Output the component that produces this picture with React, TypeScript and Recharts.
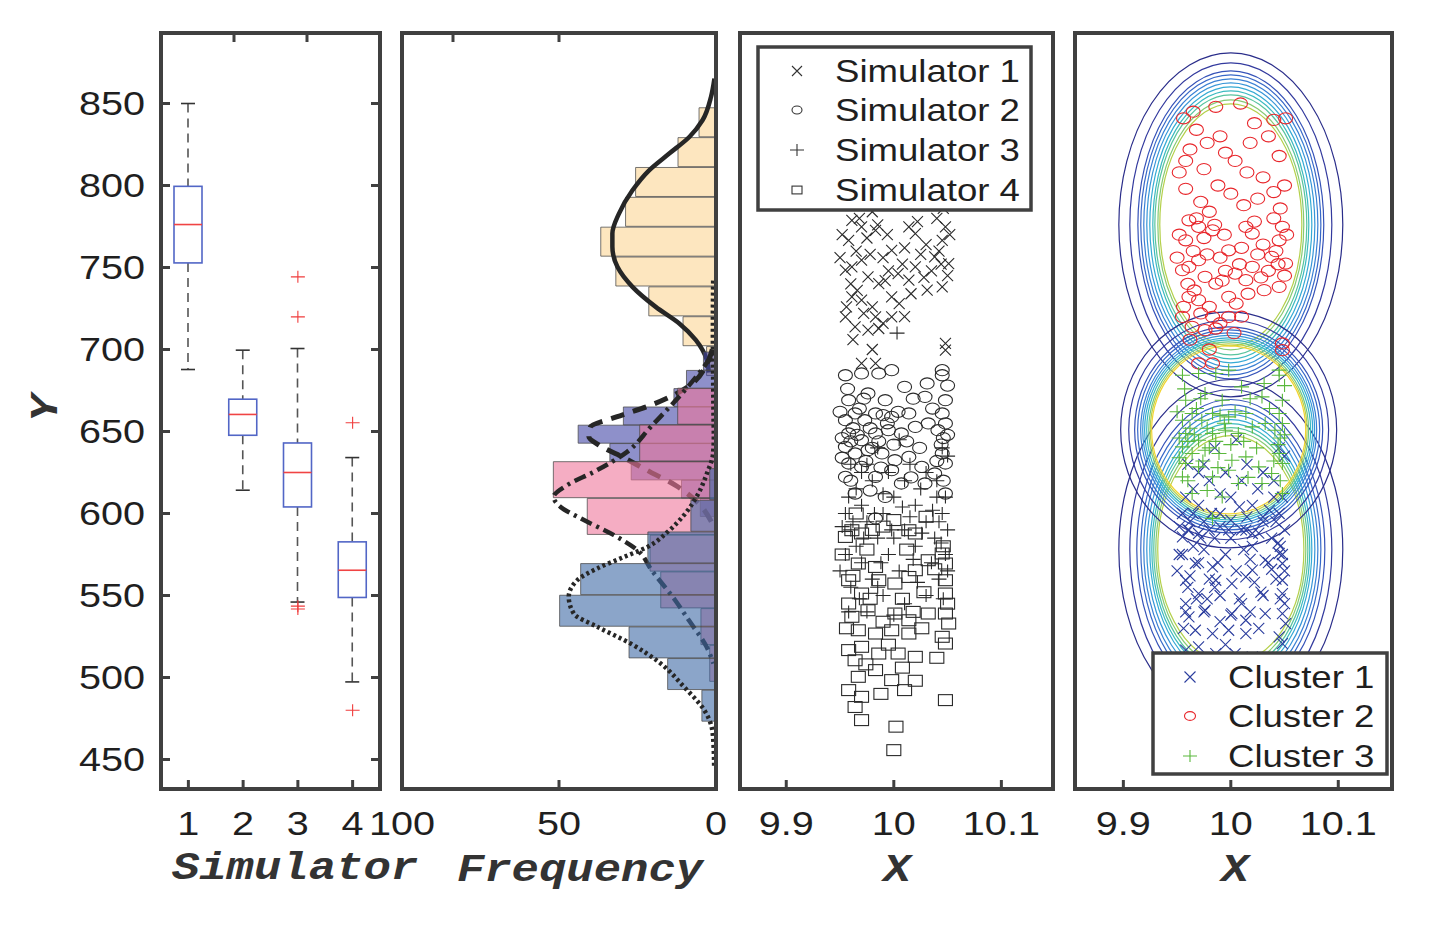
import React from "react";
import {
  ComposedChart,
  BarChart,
  Bar,
  LineChart,
  Line,
  ScatterChart,
  Scatter,
  XAxis,
  YAxis,
} from "recharts";

// ---- page / plot geometry ----
const W = 1437;
const H = 930;
const PLOT_TOP = 33;
const PLOT_BOTTOM = 789;
const P1 = { left: 161, right: 380 };
const P2 = { left: 402, right: 716 };
const P3 = { left: 740, right: 1053 };
const P4 = { left: 1075, right: 1392 };

const V_DOMAIN = [432, 893];
const V_TICKS = [450, 500, 550, 600, 650, 700, 750, 800, 850];
const X3_DOMAIN = [9.857, 10.148];
const X4_DOMAIN = [9.855, 10.15];
const X_TICKS = [9.9, 10, 10.1];

const SANS = "'Liberation Sans', Arial, sans-serif";
const MONO = "'Liberation Mono', 'Courier New', monospace";
const FRAME = "#404040";
const TXT = "#1f1f1f";
const SX = 1.2;

// ---- boxplot (panel 1) ----
const BOX_SIM = [1, 2, 3, 4];
const BOX_LO = [687.8, 614.2, 546, 497.3];
const BOX_Q1 = [752.8, 647.7, 604, 548.8];
const BOX_MED = [776.2, 660.4, 625, 565.4];
const BOX_Q3 = [799.5, 669.7, 643, 582.7];
const BOX_HI = [850, 699.6, 700.6, 634.1];
const OUT_SIM = [3, 3, 3, 3, 4, 4];
const OUT_V = [744.3, 719.9, 543.5, 541.8, 655.3, 480];

// ---- histograms (panel 2): bin centre (Y) and frequency ----
const HIST1_V = [838.3, 820.1, 801.9, 783.7, 765.5, 747.3, 729.1, 710.9, 692.7];
const HIST1_F = [5.4, 12.1, 25.6, 28.8, 36.7, 31.9, 21.4, 10.5, 3];
const HIST2_V = [692.9, 681.7, 670.6, 659.4, 648.3, 637.1, 625.9, 614.8, 603.6];
const HIST2_F = [4, 9.4, 13.4, 29.5, 43.9, 33.8, 27, 11, 5];
const HIST3_V = [665.2, 642.8, 620.4, 598, 575.6, 553.2, 530.8, 508.4];
const HIST3_F = [12.2, 24.3, 51.8, 41, 21, 17.6, 4.8, 2];
const HIST4_V = [617.7, 598.4, 579.1, 559.8, 540.5, 521.2, 501.9, 482.6];
const HIST4_F = [2, 8, 21.7, 43.1, 49.8, 27.7, 15.4, 4.5];

// fitted curves (panel 2)
const CURVE1_V = [865.2, 854, 839.8, 829.6, 819.5, 809.3, 797.1, 782.9, 770.7, 762.6, 750.4, 738.2, 726, 715.9, 705.7, 693.5, 686];
const CURVE1_F = [0.5, 1.6, 4.3, 8.5, 14.9, 21.3, 26.6, 30.9, 33, 33, 31.4, 26.6, 19.2, 11.7, 6.4, 2.9, 2.3];
const CURVE2_V = [700, 692.4, 677.2, 666, 658.9, 652.8, 647, 641.7, 633.7, 625.4, 617.3, 606, 594];
const CURVE2_F = [1.2, 2.6, 9, 20.8, 31.7, 40, 40.5, 37.3, 29, 21, 13, 5.5, 1.2];
const CURVE3_V = [695.5, 684.3, 668, 652.8, 637.6, 625.4, 617.3, 610.1, 604, 597, 586.8, 577.6, 565.4, 547.1, 535, 518.7, 508.5];
const CURVE3_F = [1.6, 5.9, 13.3, 20.8, 28.3, 38.9, 47.4, 51.7, 49.5, 43.1, 32.5, 25, 20.5, 13, 8.7, 3, 0.8];
const CURVE4_V = [742, 720, 700, 680, 660, 646.7, 635.6, 625.4, 611.2, 599, 588.8, 579.6, 573.5, 566.5, 559.3, 549.2, 539, 530.9, 520.7, 508.5, 494.3, 480, 467.9, 455, 446];
const CURVE4_F = [0.9, 1, 1, 0.9, 0.8, 0.7, 1, 2.7, 5.9, 10.2, 15.4, 21.8, 29.3, 37.8, 44.2, 46.9, 45.3, 37.8, 27.2, 17.6, 10.2, 3.7, 1.2, 0.7, 0.6];

// ---- scatter points [X, Y] (panels 3 and 4) ----
const SIM1_PTS = [
  [9.961, 778.8], [9.97, 774.8], [9.958, 766.6], [9.983, 772.7], [9.998, 760.5], [10.014, 774.8],
  [10.02, 770.7], [10.048, 774.8], [10.045, 766.6], [10.038, 756.5], [10.051, 752.4], [10.045, 738.2],
  [10.031, 736.2], [9.961, 750.4], [9.97, 754.5], [9.955, 748.4], [9.976, 744.3], [9.986, 740.2],
  [9.961, 732.1], [9.97, 730.1], [9.998, 732.1], [10.004, 746.3], [10.014, 742.3], [10.02, 750.4],
  [9.955, 719.9], [9.983, 719.9], [9.998, 719.9], [9.964, 713.8], [9.976, 711.8], [9.986, 712.8],
  [10.048, 703.7], [10.048, 699.6], [9.97, 691.5], [9.983, 691.5], [9.965, 760], [9.975, 768],
  [9.99, 756], [10.01, 762], [10.025, 758], [10.04, 780], [10.05, 745], [9.96, 740], [9.98, 726],
  [9.995, 748], [10.005, 728], [9.95, 756], [9.985, 776], [10.03, 764], [9.956, 841], [9.986, 848],
  [10.009, 850], [10.051, 841], [9.962, 822], [9.975, 810], [9.99, 830], [10.004, 815], [10.018, 826],
  [10.03, 805], [10.045, 818], [10.05, 800], [9.958, 798], [9.972, 790], [9.988, 800], [10.0, 795],
  [10.012, 788], [10.025, 792], [10.04, 796], [9.952, 808], [9.968, 834], [10.022, 838], [9.995, 820],
  [10.035, 830], [9.98, 784], [10.046, 786], [9.952, 770], [9.966, 736], [9.978, 758], [9.992, 742],
  [10.008, 752], [10.016, 734], [10.028, 744], [10.042, 760], [10.052, 770], [9.956, 726], [9.972, 722],
  [9.99, 716], [10.01, 720], [9.962, 706], [9.98, 700], [10.035, 748], [10.044, 752], [9.968, 780],
  [9.994, 770], [10.022, 778], [9.958, 815], [9.978, 826], [10.015, 808], [10.04, 840], [9.965, 845],
];
const SIM2_PTS = [
  [9.955, 684.3], [9.97, 685.4], [9.986, 685.4], [9.998, 687.4], [10.045, 687.4], [10.045, 684.3],
  [10.031, 679.3], [10.01, 677.2], [10.029, 671.1], [10.048, 669.1], [9.958, 669.1], [9.976, 673.2],
  [9.992, 669.1], [9.964, 661], [9.955, 656.9], [9.973, 656.9], [9.983, 661], [9.998, 658.9],
  [10.014, 661], [10.045, 661], [10.048, 654.9], [10.041, 650.8], [9.958, 648.8], [9.97, 644.7],
  [9.983, 648.8], [9.995, 650.8], [10.007, 648.8], [10.02, 652.8], [10.032, 654.9], [9.955, 640.6],
  [9.964, 636.6], [9.976, 638.6], [9.989, 636.6], [10.001, 632.5], [10.014, 634.5], [10.045, 636.6],
  [10.048, 630.5], [9.958, 630.5], [9.97, 628.4], [9.998, 626.4], [10.026, 628.4], [10.038, 624.4],
  [9.955, 622.3], [9.983, 622.3], [10.007, 618.3], [10.029, 618.3], [9.964, 612.2], [10.048, 612.2],
  [9.992, 610.1], [9.983, 597], [9.962, 652], [9.968, 664], [9.978, 652], [9.96, 644], [9.974, 632],
  [9.952, 634], [9.986, 644], [10.0, 642], [9.99, 660], [10.046, 646], [10.044, 642], [9.95, 662],
  [9.957, 676], [9.966, 648], [9.972, 670], [9.98, 640], [9.988, 628], [9.994, 655], [10.004, 662],
  [10.012, 644], [10.018, 670], [10.024, 640], [10.036, 664], [10.05, 678], [10.05, 648], [10.04, 632],
  [9.96, 620], [9.978, 614], [10.016, 622], [10.046, 620], [9.952, 646],
];
const SIM3_PTS = [
  [9.955, 600], [9.96, 590], [9.97, 605], [9.965, 580], [9.975, 595], [9.985, 585], [9.99, 600],
  [10.0, 610], [10.01, 590], [10.02, 605], [10.03, 595], [10.045, 600], [10.05, 590], [10.04, 610],
  [9.955, 575], [9.97, 570], [9.98, 560], [9.995, 575], [10.005, 565], [10.02, 580], [10.035, 570],
  [10.048, 575], [10.042, 560], [9.96, 555], [9.99, 550], [10.01, 545], [10.03, 550], [10.046, 548],
  [9.975, 540], [9.965, 615], [9.98, 620], [9.995, 625], [10.015, 630], [10.04, 620], [10.05, 635],
  [9.96, 630], [9.985, 640], [10.025, 615], [10.005, 645], [10.045, 640], [9.975, 630], [9.99, 612],
  [10.03, 625], [9.952, 592], [9.958, 610], [10.015, 598], [10.038, 585], [9.968, 548], [10.0, 585],
  [9.95, 565], [9.962, 595], [9.972, 585], [9.982, 600], [9.988, 570], [9.998, 590], [10.008, 604],
  [10.018, 572], [10.026, 588], [10.036, 602], [10.044, 582], [10.05, 565], [9.958, 540], [9.985, 555],
  [10.0, 538], [10.022, 558], [10.048, 610], [9.97, 625], [10.01, 620], [10.042, 595],
];
const SIM3_STRAY = [[10.003, 710]];
const SIM4_PTS = [
  [9.955, 585.7], [9.961, 589.8], [9.97, 587.8], [10.014, 589.8], [10.02, 587.8], [10.045, 575.6],
  [10.048, 569.5], [9.967, 569.5], [9.983, 567.4], [9.958, 559.3], [9.97, 551.2], [9.986, 559.3],
  [10.001, 557.3], [10.014, 561.3], [10.02, 565.4], [10.032, 571.5], [10.048, 559.3], [10.048, 551.2],
  [9.958, 545.1], [9.961, 537], [9.976, 541], [10.001, 539], [10.014, 534.9], [10.032, 539],
  [10.048, 539], [10.051, 532.9], [9.967, 528.8], [9.983, 526.8], [9.998, 528.8], [10.014, 526.8],
  [10.045, 524.8], [10.048, 520.7], [9.958, 516.7], [9.97, 518.7], [9.986, 514.6], [10.004, 514.6],
  [10.02, 512.6], [9.964, 510.5], [9.983, 504.5], [9.967, 500.4], [9.998, 498.4], [9.958, 492.3],
  [9.97, 488.2], [10.01, 492.3], [10.048, 486.2], [9.97, 474], [10.0, 455.7], [9.965, 600],
  [10.0, 596], [10.03, 598], [9.99, 592], [9.975, 578], [10.008, 548], [10.026, 530], [9.952, 575],
  [9.962, 562], [9.978, 548], [9.99, 534], [9.995, 520], [10.008, 506], [10.018, 540], [10.028, 552],
  [10.038, 566], [10.05, 545], [9.956, 530], [9.974, 508], [9.988, 490], [10.02, 498], [9.964, 482],
  [10.002, 470], [10.04, 512], [10.046, 580], [9.98, 590], [10.012, 578],
];

// ---- contour rings (panel 4): centre [X, Y], rings [rx, ry] in data units ----
const RED_CENTER = [10.0, 776];
const RED_RINGS = [
  [0.1042, 104.9], [0.094, 98.8], [0.0865, 93.9], [0.0838, 91.5], [0.081, 89], [0.0782, 86.6],
  [0.0754, 84.1], [0.0726, 81.7], [0.0707, 79.3], [0.0679, 76.2], [0.0661, 73.8],
];
const GREEN_CENTER = [9.998, 651];
const GREEN_RINGS = [
  [0.1005, 72], [0.093, 67], [0.0875, 62.8], [0.0847, 61], [0.0819, 59.1], [0.08, 57.6],
  [0.0782, 56.1], [0.0763, 54.9], [0.0744, 53.7], [0.073, 52.4], [0.0717, 51.2],
];
const BLUE_CENTER = [10.0, 578];
const BLUE_RINGS = [
  [0.1042, 103.7], [0.094, 97.6], [0.0875, 91.5], [0.0838, 88.4], [0.081, 85.4], [0.0782, 82.3],
  [0.0754, 79.3], [0.0735, 76.8], [0.0717, 74.4], [0.0698, 72], [0.068, 69.5],
];
const RING_COLORS = [
  "#2a2d8a", "#333a9e", "#3552b8", "#3768c8", "#3a80d4", "#3896d8",
  "#35aad4", "#3cbac0", "#58c49e", "#86ca74", "#b4d04a",
];
const GREEN_RING_COLORS = [
  "#2a2d8a", "#333a9e", "#3552b8", "#3768c8", "#3a80d4", "#3896d8",
  "#35aad4", "#3cbac0", "#6cc68c", "#b8d04a", "#f2d430",
];

// ---- tables built for the library ----
const boxRows = BOX_SIM.map((sim, i) => ({
  sim, lo: BOX_LO[i], q1: BOX_Q1[i], med: BOX_MED[i], q3: BOX_Q3[i], hi: BOX_HI[i],
}));
const outlierRows = OUT_SIM.map((sim, i) => ({ sim, v: OUT_V[i] }));
const bins = (vs: number[], fs: number[]) => vs.map((v, i) => ({ v, f: fs[i] }));
const toRows = (pts: number[][]) => pts.map(([x, v]) => ({ x, v }));
const rings = (c: number[], rs: number[][], colors: string[]) =>
  rs.map(([rx, ry], i) => ({ x: c[0], v: c[1], rx, ry, color: colors[i] }));

const PX_X4 = (P4.right - P4.left) / (X4_DOMAIN[1] - X4_DOMAIN[0]);
const PX_V = (PLOT_BOTTOM - PLOT_TOP) / (V_DOMAIN[1] - V_DOMAIN[0]);

const margin = (p: { left: number; right: number }) => ({
  top: PLOT_TOP - 1,
  bottom: H - PLOT_BOTTOM - 1,
  left: p.left - 1,
  right: W - p.right - 1,
});

const ABS: React.CSSProperties = { position: "absolute", left: 0, top: 0 };
const AXIS_LINE = { stroke: FRAME, strokeWidth: 4, strokeLinecap: "square" as const };

// ---- ticks ----
const bottomTick = (edges: number[]) => (p: any) => {
  const v = p.payload.value;
  const inner = !edges.includes(v);
  return (
    <g>
      {inner && <line x1={p.x} x2={p.x} y1={p.y} y2={p.y - 9} stroke={FRAME} strokeWidth={3} />}
      <text
        transform={`translate(${p.x} ${p.y + 46}) scale(${SX} 1)`}
        textAnchor="middle"
        fontSize={33}
        fontFamily={SANS}
        fill={TXT}
      >
        {v}
      </text>
    </g>
  );
};
const topTick = (edges: number[]) => (p: any) =>
  edges.includes(p.payload.value) ? (
    <g />
  ) : (
    <line x1={p.x} x2={p.x} y1={p.y} y2={p.y + 9} stroke={FRAME} strokeWidth={3} />
  );
const leftTick = (p: any) => (
  <g>
    <line x1={p.x} x2={p.x + 9} y1={p.y} y2={p.y} stroke={FRAME} strokeWidth={3} />
    <text
      transform={`translate(${p.x - 16} ${p.y}) scale(${SX} 1)`}
      dy="0.36em"
      textAnchor="end"
      fontSize={33}
      fontFamily={SANS}
      fill={TXT}
    >
      {p.payload.value}
    </text>
  </g>
);
const rightTick = (p: any) => (
  <line x1={p.x} x2={p.x - 9} y1={p.y} y2={p.y} stroke={FRAME} strokeWidth={3} />
);

type FrameCfg = {
  xKey?: string;
  xDomain: number[];
  xTicks: number[];
  reversed?: boolean;
  yReversed?: boolean;
  yTicks?: number[];
};

function frameAxes(f: FrameCfg, show: boolean) {
  const line = show ? AXIS_LINE : false;
  return [
    <XAxis key="xb" xAxisId={0} orientation="bottom" type="number" dataKey={f.xKey} height={1}
      domain={f.xDomain} allowDataOverflow ticks={f.xTicks} interval={0} reversed={f.reversed}
      tickSize={0} tickMargin={0} tickLine={false} axisLine={line}
      tick={show ? bottomTick(f.xDomain) : false} />,
    <XAxis key="xt" xAxisId="t" orientation="top" type="number" height={1}
      domain={f.xDomain} allowDataOverflow ticks={f.xTicks} interval={0} reversed={f.reversed}
      tickSize={0} tickMargin={0} tickLine={false} axisLine={line}
      tick={show ? topTick(f.xDomain) : false} />,
    <YAxis key="yl" yAxisId={0} orientation="left" type="number" dataKey="v" width={1}
      domain={V_DOMAIN} allowDataOverflow ticks={f.yTicks} interval={0} reversed={f.yReversed}
      tickSize={0} tickMargin={0} tickLine={false} axisLine={line}
      tick={show && f.yTicks ? leftTick : false} />,
    <YAxis key="yr" yAxisId="r" orientation="right" type="number" width={1}
      domain={V_DOMAIN} allowDataOverflow ticks={f.yTicks} interval={0} reversed={f.yReversed}
      tickSize={0} tickMargin={0} tickLine={false} axisLine={line}
      tick={show && f.yTicks ? rightTick : false} />,
  ];
}

const P1_FRAME: FrameCfg = { xKey: "sim", xDomain: [0.5, 4.5], xTicks: [1, 2, 3, 4], yTicks: V_TICKS };
// vertical layout puts low Y at the top, so the Y axis is flipped back here
const P2_FRAME: FrameCfg = { xDomain: [0, 100], xTicks: [0, 50, 100], reversed: true, yReversed: true };
const P3_FRAME: FrameCfg = { xKey: "x", xDomain: X3_DOMAIN, xTicks: X_TICKS };
const P4_FRAME: FrameCfg = { xKey: "x", xDomain: X4_DOMAIN, xTicks: X_TICKS };

// ---- marker shapes ----
const XMark = ({ cx, cy, color, s = 5.5 }: any) => (
  <path d={`M${cx - s},${cy - s}L${cx + s},${cy + s}M${cx - s},${cy + s}L${cx + s},${cy - s}`}
    stroke={color} strokeWidth={1.1} fill="none" />
);
const OMark = ({ cx, cy, color, s = 7 }: any) => (
  <ellipse cx={cx} cy={cy} rx={s} ry={s * 0.8} stroke={color} strokeWidth={1.1} fill="none" />
);
const PMark = ({ cx, cy, color, s = 7.5 }: any) => (
  <path d={`M${cx - s},${cy}L${cx + s},${cy}M${cx},${cy - s + 1}L${cx},${cy + s - 1}`}
    stroke={color} strokeWidth={1.1} fill="none" />
);
const SMark = ({ cx, cy, color, s = 7 }: any) => (
  <rect x={cx - s} y={cy - s * 0.78} width={2 * s} height={s * 1.56} stroke={color} strokeWidth={1.1} fill="none" />
);

// ---- boxplot shape: drawn inside the [lo, hi] bar that the library placed ----
const BoxShape = (p: any) => {
  const { x, y, width, height, payload } = p;
  const top = Math.min(y, y + height);
  const bot = Math.max(y, y + height);
  const { lo, hi, q1, q3, med } = payload;
  const at = (v: number) => bot - ((v - lo) / (hi - lo)) * (bot - top);
  const cx = x + width / 2;
  return (
    <g>
      <line x1={cx} x2={cx} y1={at(hi)} y2={at(q3)} stroke="#555" strokeWidth={1.6} strokeDasharray="9 6" />
      <line x1={cx} x2={cx} y1={at(q1)} y2={at(lo)} stroke="#555" strokeWidth={1.6} strokeDasharray="9 6" />
      <line x1={cx - 7} x2={cx + 7} y1={at(hi)} y2={at(hi)} stroke="#333" strokeWidth={1.6} />
      <line x1={cx - 7} x2={cx + 7} y1={at(lo)} y2={at(lo)} stroke="#333" strokeWidth={1.6} />
      <rect x={x} y={at(q3)} width={width} height={at(q1) - at(q3)} fill="none" stroke="#5266c6" strokeWidth={1.6} />
      <line x1={x} x2={x + width} y1={at(med)} y2={at(med)} stroke="#f04444" strokeWidth={1.6} />
    </g>
  );
};

function BoxPanel() {
  return (
    <div style={ABS}>
      <ComposedChart width={W} height={H} data={boxRows} margin={margin(P1)} barSize={28}>
        {frameAxes(P1_FRAME, true)}
        <Bar dataKey={(d: any) => [d.lo, d.hi]} shape={BoxShape} isAnimationActive={false} />
        <Scatter data={outlierRows} dataKey="v" isAnimationActive={false}
          shape={(p: any) => <PMark cx={p.cx} cy={p.cy} color="#f03c3c" s={7} />} />
      </ComposedChart>
    </div>
  );
}

// ---- panel 2 layers ----
function HistLayer({ vs, fs, color, barSize }: any) {
  return (
    <div style={ABS}>
      <BarChart width={W} height={H} layout="vertical" data={bins(vs, fs)} margin={margin(P2)}>
        {frameAxes(P2_FRAME, false)}
        <Bar dataKey="f" fill={color} fillOpacity={0.6} stroke="#4a4a4a" strokeOpacity={0.75}
          strokeWidth={1} barSize={barSize} isAnimationActive={false} />
      </BarChart>
    </div>
  );
}

function CurveLayer({ vs, fs, dash, width, frame }: any) {
  return (
    <div style={ABS}>
      <LineChart width={W} height={H} layout="vertical" data={bins(vs, fs)} margin={margin(P2)}>
        {frameAxes(P2_FRAME, !!frame)}
        <Line dataKey="f" type="monotone" stroke="#262626" strokeWidth={width}
          strokeDasharray={dash} dot={false} isAnimationActive={false} />
      </LineChart>
    </div>
  );
}

function ScatterPanel() {
  const dark = "#2a2a2a";
  return (
    <div style={ABS}>
      <ScatterChart width={W} height={H} margin={margin(P3)}>
        {frameAxes(P3_FRAME, true)}
        <Scatter data={toRows(SIM1_PTS)} isAnimationActive={false}
          shape={(p: any) => <XMark cx={p.cx} cy={p.cy} color={dark} />} />
        <Scatter data={toRows(SIM2_PTS)} isAnimationActive={false}
          shape={(p: any) => <OMark cx={p.cx} cy={p.cy} color={dark} />} />
        <Scatter data={toRows([...SIM3_PTS, ...SIM3_STRAY])} isAnimationActive={false}
          shape={(p: any) => <PMark cx={p.cx} cy={p.cy} color={dark} />} />
        <Scatter data={toRows(SIM4_PTS)} isAnimationActive={false}
          shape={(p: any) => <SMark cx={p.cx} cy={p.cy} color={dark} />} />
      </ScatterChart>
    </div>
  );
}

const RingShape = (p: any) => (
  <ellipse cx={p.cx} cy={p.cy} rx={p.payload.rx * PX_X4} ry={p.payload.ry * PX_V}
    fill="none" stroke={p.payload.color} strokeWidth={1.2} />
);

function ClusterPanel() {
  return (
    <div style={ABS}>
      <ScatterChart width={W} height={H} margin={margin(P4)}>
        {frameAxes(P4_FRAME, true)}
        <Scatter data={rings(RED_CENTER, RED_RINGS, RING_COLORS)} shape={RingShape} isAnimationActive={false} />
        <Scatter data={rings(BLUE_CENTER, BLUE_RINGS, RING_COLORS)} shape={RingShape} isAnimationActive={false} />
        <Scatter data={rings(GREEN_CENTER, GREEN_RINGS, GREEN_RING_COLORS)} shape={RingShape} isAnimationActive={false} />
        <Scatter data={toRows([...SIM3_PTS, ...SIM4_PTS])} isAnimationActive={false}
          shape={(p: any) => <XMark cx={p.cx} cy={p.cy} color="#2b3d9e" />} />
        <Scatter data={toRows([...SIM1_PTS, ...SIM3_STRAY])} isAnimationActive={false}
          shape={(p: any) => <OMark cx={p.cx} cy={p.cy} color="#e8262b" />} />
        <Scatter data={toRows(SIM2_PTS)} isAnimationActive={false}
          shape={(p: any) => <PMark cx={p.cx} cy={p.cy} color="#5ab83c" />} />
      </ScatterChart>
    </div>
  );
}

// ---- legends and axis titles ----
const SIM_LEGEND = ["Simulator 1", "Simulator 2", "Simulator 3", "Simulator 4"];
const CLUSTER_LEGEND = ["Cluster 1", "Cluster 2", "Cluster 3"];

function LegendText({ x, y, text }: any) {
  return (
    <text transform={`translate(${x} ${y}) scale(1.18 1)`} dy="0.36em" fontSize={31} fontFamily={SANS} fill={TXT}>
      {text}
    </text>
  );
}

function Title({ x, y, text, rotate }: any) {
  return (
    <text
      transform={`translate(${x} ${y})${rotate ? " rotate(-90)" : ""} scale(${SX} 1)`}
      textAnchor="middle"
      fontSize={38}
      fontWeight="bold"
      fontStyle="italic"
      fontFamily={MONO}
      fill="#333"
    >
      {text}
    </text>
  );
}

function Overlay() {
  const simRows = [71, 110, 150, 190];
  const cluRows = [677, 716, 756];
  const simMarks = [XMark, OMark, PMark, SMark];
  const cluMarks = [XMark, OMark, PMark];
  const cluColors = ["#2b3d9e", "#e8262b", "#5ab83c"];
  return (
    <svg width={W} height={H} style={ABS}>
      <rect x={758} y={47} width={273} height={163} fill="#fff" stroke={FRAME} strokeWidth={3.5} />
      {SIM_LEGEND.map((t, i) => {
        const M = simMarks[i];
        return (
          <g key={t}>
            <M cx={797} cy={simRows[i]} color="#333" s={i === 2 ? 7 : 5} />
            <LegendText x={835} y={simRows[i]} text={t} />
          </g>
        );
      })}
      <rect x={1153} y={653} width={234} height={121} fill="#fff" stroke={FRAME} strokeWidth={3.5} />
      {CLUSTER_LEGEND.map((t, i) => {
        const M = cluMarks[i];
        return (
          <g key={t}>
            <M cx={1190} cy={cluRows[i]} color={cluColors[i]} s={i === 2 ? 7 : 5.5} />
            <LegendText x={1228} y={cluRows[i]} text={t} />
          </g>
        );
      })}
      <Title x={295} y={879} text="Simulator" />
      <Title x={580} y={881} text="Frequency" />
      <Title x={897} y={881} text="X" />
      <Title x={1235} y={881} text="X" />
      <Title x={57} y={408} text="Y" rotate />
    </svg>
  );
}

export default function App() {
  return (
    <div style={{ position: "absolute", left: 0, top: 0, width: W, height: H, background: "#fff", overflow: "hidden" }}>
      <BoxPanel />
      <HistLayer vs={HIST1_V} fs={HIST1_F} color="#fbd594" barSize={29} />
      <CurveLayer vs={CURVE1_V} fs={CURVE1_F} width={4.5} />
      <HistLayer vs={HIST2_V} fs={HIST2_F} color="#4346a6" barSize={18} />
      <CurveLayer vs={CURVE2_V} fs={CURVE2_F} width={5} dash="14 9" />
      <HistLayer vs={HIST3_V} fs={HIST3_F} color="#ee769b" barSize={36} />
      <CurveLayer vs={CURVE3_V} fs={CURVE3_F} width={4.5} dash="12 5 3 5" />
      <HistLayer vs={HIST4_V} fs={HIST4_F} color="#3e69a5" barSize={31} />
      <CurveLayer vs={CURVE4_V} fs={CURVE4_F} width={4.5} dash="3 3" frame />
      <ScatterPanel />
      <ClusterPanel />
      <Overlay />
    </div>
  );
}
